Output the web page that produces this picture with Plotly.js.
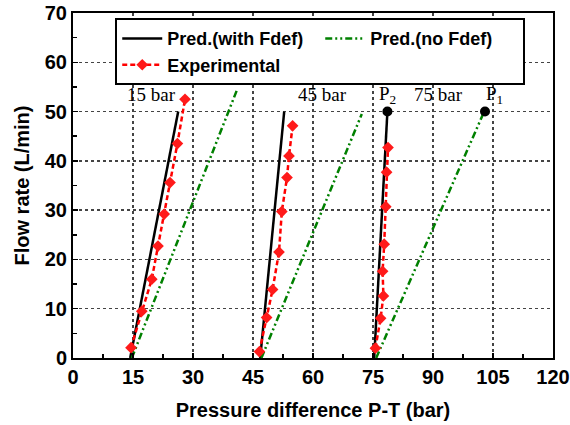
<!DOCTYPE html>
<html>
<head>
<meta charset="utf-8">
<script src="https://cdn.plot.ly/plotly-3.0.1.min.js"></script>
<style>html,body{margin:0;padding:0;background:#fff;}#chart{width:570px;height:425px;}</style>
</head>
<body>
<div id="chart"></div>
<script>
// Predicted with Fdef (15, 45, 75 bar), null separates groups
var predFdefX = [14.3, 26.3, null, 46.8, 52.8, null, 75.3, 78.6];
var predFdefY = [0, 50, null, 0, 50, null, 0, 50];
// Predicted without Fdef
var predNoFdefX = [14.7, 40.9, null, 47.1, 72.2, null, 75.8, 102.8];
var predNoFdefY = [0, 54.2, null, 0, 49.5, null, 0, 50];
// Experimental
var expX = [14.5, 17.2, 19.7, 21.25, 22.8, 24.25, 26.1, 28.0, null,
            46.6, 48.4, 49.9, 51.5, 52.2, 53.5, 54.0, 54.9, null,
            75.6, 76.9, 77.6, 77.4, 77.8, 78.2, 78.4, 78.75];
var expY = [2.1, 9.5, 16.0, 22.7, 29.2, 35.6, 43.5, 52.5, null,
            1.3, 8.2, 13.9, 21.5, 29.7, 36.6, 41.0, 47.1, null,
            2.0, 8.05, 12.6, 17.6, 23.1, 30.7, 37.7, 42.7];
// Operating points P1, P2
var pointX = [78.6, 103];
var pointY = [50, 50];
// Labels
var labelText = ["15 bar", "45 bar", "75 bar", "P<sub>2</sub>", "P<sub>1</sub>"];
var labelX = [19.5, 62.4, 91.3, 78.6, 105.4];
var labelY = [53.4, 53.4, 53.4, 53.4, 53.4];

var traces = [
  {x: predFdefX, y: predFdefY, mode: 'lines', name: 'Pred.(with Fdef)',
   line: {color: '#000', width: 2.5}, connectgaps: false},
  {x: predNoFdefX, y: predNoFdefY, mode: 'lines', name: 'Pred.(no Fdef)',
   line: {color: '#008000', width: 2.5, dash: '7px,3px,2px,3px,2px,3px'}, connectgaps: false},
  {x: expX, y: expY, mode: 'lines+markers', name: 'Experimental',
   line: {color: '#ff0000', width: 2.5, dash: '5px,3px'},
   marker: {symbol: 'diamond', size: 9, color: '#ff1a1a'}, connectgaps: false},
  {x: pointX, y: pointY, mode: 'markers', showlegend: false,
   marker: {symbol: 'circle', size: 10, color: '#000'}}
];

var annotations = labelText.map(function(t, i) {
  return {x: labelX[i], y: labelY[i], xref: 'x', yref: 'y', text: t, showarrow: false,
          font: {family: 'Liberation Serif, Times New Roman, serif', size: 19, color: '#000'}};
});

var titleFont = {family: 'Liberation Sans, Arial, sans-serif', size: 20, color: '#000', weight: 'bold'};
var axisCommon = {
  showline: true, linecolor: '#000', linewidth: 2, mirror: true,
  ticks: 'inside', ticklen: 5, tickwidth: 1.5, tickcolor: '#000',
  showgrid: true, gridcolor: '#444', gridwidth: 1.5, griddash: 'dot',
  zeroline: false,
  tickfont: {family: 'Liberation Sans, Arial, sans-serif', size: 20, color: '#000', weight: 'bold'}
};

var layout = {
  width: 570, height: 425,
  margin: {l: 73, r: 17, t: 13, b: 67},
  paper_bgcolor: '#fff', plot_bgcolor: '#fff',
  showlegend: true,
  xaxis: Object.assign({}, axisCommon, {
    range: [0, 120], tickmode: 'linear', tick0: 0, dtick: 15,
    minor: {tick0: 0, dtick: 7.5, ticks: 'inside', ticklen: 4, tickwidth: 1.5, tickcolor: '#000', showgrid: false},
    title: {text: 'Pressure difference P-T (bar)', standoff: 16, font: titleFont}
  }),
  yaxis: Object.assign({}, axisCommon, {
    range: [0, 70], tickmode: 'linear', tick0: 0, dtick: 10,
    minor: {tick0: 0, dtick: 5, ticks: 'inside', ticklen: 4, tickwidth: 1.5, tickcolor: '#000', showgrid: false},
    title: {text: 'Flow rate (L/min)', standoff: 10, font: titleFont}
  }),
  legend: {
    orientation: 'h', x: 0.088, y: 0.985, xanchor: 'left', yanchor: 'top',
    bgcolor: '#fff', bordercolor: '#000', borderwidth: 2,
    entrywidth: 148, entrywidthmode: 'pixels', itemwidth: 40,
    font: {family: 'Liberation Sans, Arial, sans-serif', size: 18, color: '#000', weight: 'bold'},
    tracegroupgap: 0
  },
  annotations: annotations
};

Plotly.newPlot('chart', traces, layout, {displayModeBar: false, staticPlot: true});
</script>
</body>
</html>
